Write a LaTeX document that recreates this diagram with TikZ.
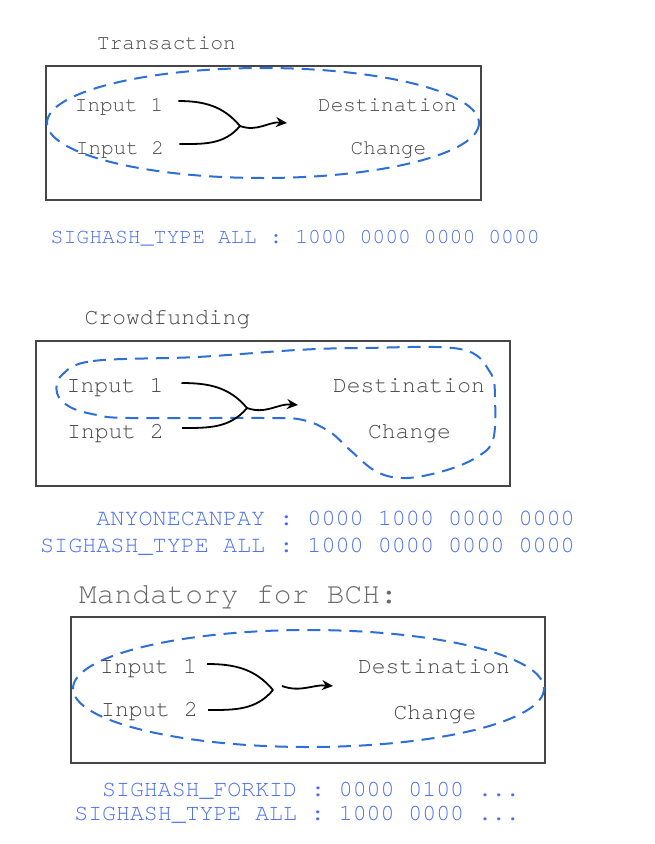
\documentclass[tikz,border=0pt]{standalone}
\usepackage{fontspec}
\newfontfamily\cour{TeX Gyre Cursor}
\usetikzlibrary{arrows.meta,positioning,calc}
\definecolor{txtgray}{RGB}{70,70,70}
\definecolor{ttlgray}{RGB}{105,105,105}
\definecolor{bitblue}{RGB}{75,110,235}
\definecolor{selblue}{RGB}{45,110,215}
\definecolor{boxgray}{RGB}{70,70,70}
\newcommand{\fsz}[1]{\fontsize{#1}{#1}\selectfont\cour}
\tikzset{
  boxframe/.style={draw=boxgray, line width=1.5pt},
  sel/.style={draw=selblue, line width=2pt, dash pattern=on 13pt off 8pt},
  lbl/.style={text=txtgray, anchor=base, inner sep=0pt},
  bits/.style={text=bitblue, anchor=base east, inner sep=0pt},
  flow/.style={black, line width=1.8pt},
  flowarr/.style={flow, -{Stealth[length=11pt,width=10pt]}},
}

\begin{document}
\begin{tikzpicture}[x=1pt,y=-1pt]
  \useasboundingbox (0,0) rectangle (655,844);
  % Transaction
  \node[lbl, font=\fsz{21}] (t1title) at (166.5,49) {Transaction};
  \draw[boxframe] (46,66) rectangle (481,200);
  \draw[sel] (263,123) ellipse [x radius=216, y radius=55];
  \node[lbl, font=\fsz{21}] (t1in1) at (119,111) {Input 1};
  \node[lbl, font=\fsz{21}] (t1in2) at (120,154) {Input 2};
  \node[lbl, font=\fsz{21}] (t1dst) at (387.5,111) {Destination};
  \node[lbl, font=\fsz{21}] (t1chg) at (388.5,154) {Change};
  \coordinate (t1j) at (240,126);
  \coordinate (t1end) at (287,123);
  \draw[flow] ([xshift=15pt,yshift=10pt]t1in1.base east) to[out=0,in=130] (t1j);
  \draw[flow] ([xshift=15pt,yshift=10pt]t1in2.base east) to[out=0,in=-130] (t1j);
  \draw[flowarr] (t1j) to[out=-20,in=175] (t1end);
  \node[bits, font=\fsz{21.45}] (t1all) at (540,243) {SIGHASH\_TYPE ALL : 1000 0000 0000 0000};

  % Crowdfunding
  \node[lbl, font=\fsz{23}] (t2title) at (167.5,324) {Crowdfunding};
  \draw[boxframe] (36,341) rectangle (510,486);
  \draw[sel] plot[smooth cycle, tension=0.6] coordinates {
    (62,375) (93,361) (197,357) (297,350) (363,348) (460,349) (490,372)
    (495,400) (493,440) (477,457) (447,470) (407,478) (377,472) (350,450)
    (330,432) (303,420) (263,418) (130,418) (97,415) (70,407) (57,393)};
  \node[lbl, font=\fsz{23}] (t2in1) at (115,392) {Input 1};
  \node[lbl, font=\fsz{23}] (t2in2) at (115.5,438) {Input 2};
  \node[lbl, font=\fsz{23}] (t2dst) at (409,392) {Destination};
  \node[lbl, font=\fsz{23}] (t2chg) at (409.5,438) {Change};
  \coordinate (t2j) at (247,408);
  \coordinate (t2end) at (298,405);
  \draw[flow] ([xshift=18pt,yshift=9pt]t2in1.base east) to[out=0,in=130] (t2j);
  \draw[flow] ([xshift=18pt,yshift=10pt]t2in2.base east) to[out=0,in=-130] (t2j);
  \draw[flowarr] (t2j) to[out=-20,in=175] (t2end);
  \node[bits, font=\fsz{23.45}] (t2acp) at (575,525) {ANYONECANPAY : 0000 1000 0000 0000};
  \node[bits, font=\fsz{23.45}] (t2all) at (575,552) {SIGHASH\_TYPE ALL : 1000 0000 0000 0000};

  % BCH
  \node[lbl, text=ttlgray, font=\fsz{29.5}] (t3title) at (238.5,603) {Mandatory for BCH:};
  \draw[boxframe] (71,617) rectangle (545,763);
  \draw[sel] (308.5,688.5) ellipse [x radius=235.5, y radius=58.5];
  \node[lbl, font=\fsz{23}] (t3in1) at (148.5,673) {Input 1};
  \node[lbl, font=\fsz{23}] (t3in2) at (149.5,716) {Input 2};
  \node[lbl, font=\fsz{23}] (t3dst) at (434,673) {Destination};
  \node[lbl, font=\fsz{23}] (t3chg) at (435,719) {Change};
  \coordinate (t3j) at (273,690);
  \coordinate (t3beg) at (282,686);
  \coordinate (t3end) at (333,686);
  \draw[flow] ([xshift=10pt,yshift=9pt]t3in1.base east) to[out=0,in=130] (t3j);
  \draw[flow] ([xshift=10pt,yshift=6pt]t3in2.base east) to[out=0,in=-130] (t3j);
  \draw[flowarr] (t3beg) to[out=-20,in=175] (t3end);
  \node[bits, font=\fsz{23.2}] (t3fork) at (520,796) {SIGHASH\_FORKID : 0000 0100 ...};
  \node[bits, font=\fsz{23.2}] (t3all) at (520,820) {SIGHASH\_TYPE ALL : 1000 0000 ...};
\end{tikzpicture}
\end{document}
